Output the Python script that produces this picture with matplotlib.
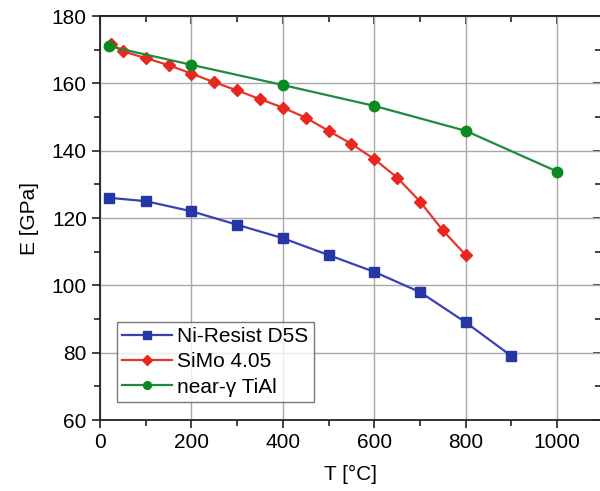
import numpy as np
from matplotlib import pyplot as plt
from matplotlib.ticker import MultipleLocator

# Ni-Resist D5S
t_ni = [20, 100, 200, 300, 400, 500, 600, 700, 800, 900]
e_ni = [126, 125, 122, 118, 114, 109, 104, 98, 89, 79]

# SiMo 4.05
t_simo = [25, 50, 100, 150, 200, 250, 300, 350, 400, 450, 500, 550, 600, 650, 700, 750, 800]
e_simo = [171.7, 169.5, 167.5, 165.4, 162.9, 160.3, 157.9, 155.3, 152.8, 149.8, 145.9, 142.0, 137.5, 132.0, 124.9, 116.3, 109]

# near-gamma TiAl
t_tial = [20, 200, 400, 600, 800, 1000]
e_tial = [171, 165.5, 159.5, 153.3, 145.9, 133.8]

plt.rcParams['font.family'] = ['Liberation Sans', 'DejaVu Sans']

fig = plt.figure(figsize=(6, 4.91), dpi=100)
ax = fig.add_axes([0.1667, 0.1446, 0.835, 0.8228])  # right spine sits just past the edge

ax.plot(t_ni, e_ni, color="#3b3fb4", marker="s", markersize=7, markerfacecolor="#2537a6",
        markeredgecolor="#2537a6", linewidth=1.6, label="Ni-Resist D5S", zorder=3)
ax.plot(t_simo, e_simo, color="#e8352c", marker="D", markersize=6.5, markerfacecolor="#e8271f",
        markeredgecolor="#e8271f", linewidth=1.6, label="SiMo 4.05", zorder=3)
ax.plot(t_tial, e_tial, color="#1f8a3e", marker="o", markersize=7.5, markerfacecolor="#0b8a22",
        markeredgecolor="#0b8a22", linewidth=1.6, label="near-\u03b3 TiAl", zorder=3)

ax.set_xlim(0, 1096)
ax.set_ylim(60, 180)
ax.xaxis.set_major_locator(MultipleLocator(200))
ax.xaxis.set_minor_locator(MultipleLocator(100))
ax.yaxis.set_major_locator(MultipleLocator(20))
ax.yaxis.set_minor_locator(MultipleLocator(10))
ax.grid(True, which="major", color="#a8a8a8", linewidth=1.0)
ax.set_axisbelow(True)

ax.tick_params(which="both", direction="out", labelsize=15, width=1.2, color="#222222")
ax.tick_params(which="major", length=6)
ax.tick_params(which="minor", length=4)
for spine in ax.spines.values():
    spine.set_linewidth(1.3)
    spine.set_color("#222222")

# mirror ticks on top and right, pointing inward
top = ax.secondary_xaxis("top")
top.xaxis.set_major_locator(MultipleLocator(200))
top.xaxis.set_minor_locator(MultipleLocator(100))
top.tick_params(which="both", direction="in", labeltop=False, width=1.2, color="#222222")
top.tick_params(which="major", length=6)
top.tick_params(which="minor", length=4)
top.spines["top"].set_linewidth(1.3)
right = ax.secondary_yaxis("right")
right.yaxis.set_major_locator(MultipleLocator(20))
right.yaxis.set_minor_locator(MultipleLocator(10))
right.tick_params(which="both", direction="in", labelright=False, width=1.2, color="#222222")
right.tick_params(which="major", length=6)
right.tick_params(which="minor", length=4)

ax.set_xlabel("T [\u00b0C]", fontsize=15, labelpad=9)
ax.set_ylabel("E [GPa]", fontsize=15, labelpad=9)

leg = ax.legend(loc="lower left", bbox_to_anchor=(0.034, 0.045), borderaxespad=0, fontsize=15,
                frameon=True, fancybox=False, edgecolor="#555555", handlelength=2.4, borderpad=0.25,
                labelspacing=0.3, handletextpad=0.25, markerscale=0.75)
leg.get_frame().set_linewidth(1.0)

fig.savefig("out.png", dpi=100)
